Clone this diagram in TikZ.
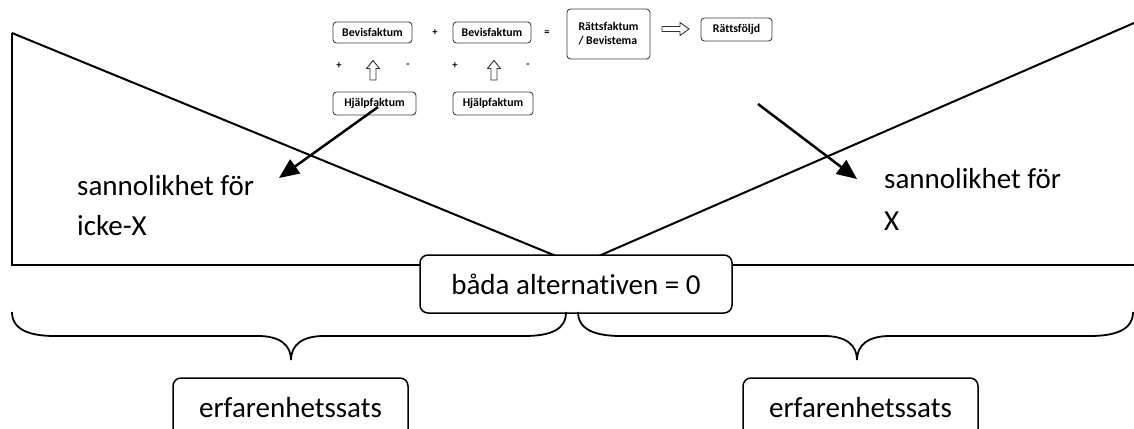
\documentclass[tikz,border=0pt]{standalone}
\usepackage{fontspec}
\setmainfont[Ligatures=NoCommon]{Carlito}
\usetikzlibrary{arrows.meta}
\begin{document}
\begin{tikzpicture}[x=1pt,y=-1pt,
  bigtxt/.style={font=\fontsize{29}{40}\selectfont},
  bigbox/.style={draw, line width=1.5pt, rounded corners=8pt, fill=white, inner sep=0pt, bigtxt},
  framebox/.style={draw, line width=1.5pt, rounded corners=8pt, fill=white},
  smallbox/.style={draw=black!75, line width=0.9pt, rounded corners=3.5pt, fill=white, inner sep=0pt,
                   font=\fontsize{11.8}{14}\selectfont\bfseries},
  sign/.style={font=\fontsize{10.5}{12}\selectfont\bfseries, inner sep=0pt},
  hollow/.style={draw=black!80, line width=0.9pt, fill=white, line join=miter},
  mainline/.style={line width=2pt},
  brace/.style={line width=1.8pt},
  pointer/.style={line width=2.5pt, -{Triangle[length=20pt,width=17pt]}}
]
\clip (0,0) rectangle (1134,428);
\fill[white] (0,0) rectangle (1134,428);

% outline: left wall, ground line and the two slopes meeting in the middle
\coordinate (tl) at (12,33);
\coordinate (bl) at (12,265);
\coordinate (br) at (1134,265);
\coordinate (tr) at (1134,23);
\coordinate (apex) at (578,265);
\draw[mainline] (tl) -- (bl) -- (br);
\draw[mainline] (tl) -- (apex) -- (tr);

% centre box
\node[bigbox, minimum width=312pt, minimum height=58pt] (zero) at (576,284) {båda alternativen = 0};

% braces
\draw[brace] (12,312) .. controls (12,330) and (30,336) .. (55,336) -- (258,336)
  .. controls (280,336) and (291,345) .. (291,360)
  .. controls (291,345) and (302,336) .. (324,336) -- (524,336)
  .. controls (550,336) and (566,330) .. (566,312);
\draw[brace] (578,312) .. controls (578,330) and (596,336) .. (621,336) -- (824,336)
  .. controls (846,336) and (857,345) .. (857,360)
  .. controls (857,345) and (868,336) .. (890,336) -- (1090,336)
  .. controls (1115,336) and (1133,330) .. (1133,312);

% lower boxes, running past the bottom edge
\draw[framebox] (173,378) rectangle (408,448);
\draw[framebox] (743,378) rectangle (978,448);
\node[bigtxt, inner sep=0pt, anchor=base] (eL) at (290.5,417) {erfarenhetssats};
\node[bigtxt, inner sep=0pt, anchor=base] (eR) at (860.5,417) {erfarenhetssats};

% side labels
\node[bigtxt, anchor=base west, inner sep=0pt] (nxA) at (77,195) {sannolikhet för};
\node[bigtxt, anchor=base west, inner sep=0pt] (nxB) at (77,235) {icke-X};
\node[bigtxt, anchor=base west, inner sep=0pt] (xA) at (884,188) {sannolikhet för};
\node[bigtxt, anchor=base west, inner sep=0pt] (xB) at (884,230) {X};

% top row of small boxes
\node[smallbox, minimum width=79pt, minimum height=21pt] (bf1) at (372.5,32.5) {Bevisfaktum};
\node[sign] (plus1) at (435,33) {+};
\node[smallbox, minimum width=78pt, minimum height=21pt] (bf2) at (492,32.5) {Bevisfaktum};
\node[sign] (eq) at (547,33) {=};
\node[smallbox, minimum width=83pt, minimum height=50pt, align=left] (rf) at (608.5,34) {Rättsfaktum\\/ Bevistema};
\node[smallbox, minimum width=71pt, minimum height=23pt] (rfj) at (736.5,29.5) {Rättsföljd};
\node[smallbox, minimum width=83pt, minimum height=23pt] (hj1) at (374.5,103.5) {Hjälpfaktum};
\node[smallbox, minimum width=80pt, minimum height=23pt] (hj2) at (493,103.5) {Hjälpfaktum};

\node[sign] (p1) at (339,66) {+};
\node[sign] (m1) at (408,66) {-};
\node[sign] (p2) at (455,66) {+};
\node[sign] (m2) at (528,66) {-};

% hollow block arrows
\draw[hollow] (373,60.5) -- (379.5,68.5) -- (376,68.5) -- (376,80) -- (370,80) -- (370,68.5) -- (366.5,68.5) -- cycle;
\draw[hollow] (494,60.5) -- (500.5,68.5) -- (497,68.5) -- (497,80) -- (491,80) -- (491,68.5) -- (487.5,68.5) -- cycle;
\draw[hollow] (689,29) -- (680,22.5) -- (680,26.5) -- (662,26.5) -- (662,31.5) -- (680,31.5) -- (680,35.5) -- cycle;

% pointers to the two labels
\coordinate (sL) at (378,107);
\coordinate (eLt) at (279,178);
\coordinate (sR) at (758,104);
\coordinate (eRt) at (857,179);
\draw[pointer] (sL) -- (eLt);
\draw[pointer] (sR) -- (eRt);
\end{tikzpicture}
\end{document}
